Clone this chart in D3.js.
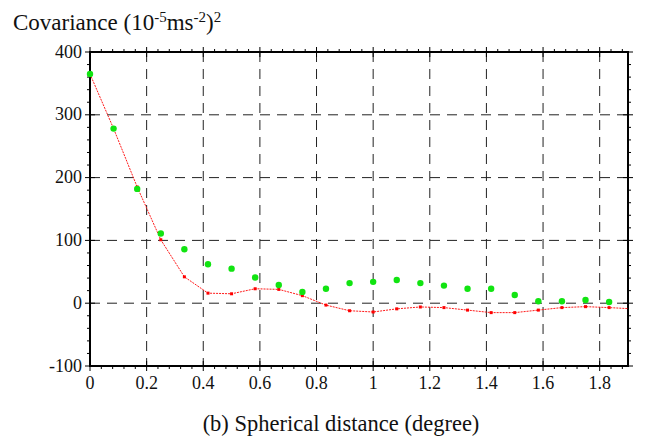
<!DOCTYPE html>
<html>
<head>
<meta charset="utf-8">
<script src="https://cdn.jsdelivr.net/npm/d3@7"></script>
<style>
  body { margin: 0; background: #fff; }
</style>
</head>
<body>
<svg id="chart" width="649" height="437"></svg>
<script>
// MARK: Data.

const distances = [0, 0.0833, 0.1667, 0.25, 0.3333, 0.4167, 0.5, 0.5833, 0.6667, 0.75, 0.8333,
  0.9167, 1.0, 1.0833, 1.1667, 1.25, 1.3333, 1.4167, 1.5, 1.5833, 1.6667, 1.75, 1.8333, 1.9167]
// empirical covariances (green dots)
const empirical = [365, 278, 182, 111, 86, 62, 55, 41, 29, 18, 23,
  32, 34, 37, 32, 28, 23, 23, 13, 3, 3, 5, 2]
// model covariances (red line)
const model = [365, 278, 185, 101, 42, 16, 15, 23, 22, 12, -3,
  -12, -14, -9, -6, -7, -11, -15, -15, -11, -7, -5.5, -7, -9]

const xTicks = [0, 0.2, 0.4, 0.6, 0.8, 1.0, 1.2, 1.4, 1.6, 1.8]
const yTicks = [-100, 0, 100, 200, 300, 400]

const FONT = 'Liberation Serif'

// MARK: Layout.

const margin = { top: 52, right: 21, bottom: 71, left: 90 }
const svg    = d3.select('#chart')
const width  = 649 - margin.left - margin.right
const height = 437 - margin.top - margin.bottom

const x = d3.scaleLinear().domain([0, 1.9]).range([0, width])
const y = d3.scaleLinear().domain([-100, 400]).range([height, 0])

const g = svg.append('g').attr('transform', `translate(${margin.left},${margin.top})`)

svg.append('defs').append('clipPath').attr('id', 'plot-clip')
  .append('rect').attr('width', width).attr('height', height)

// Dashed grid.
g.append('g').selectAll('line').data(xTicks.filter((d) => d > 0)).enter()
  .append('line')
  .attr('x1', (d) => x(d)).attr('x2', (d) => x(d))
  .attr('y1', 0).attr('y2', height)
  .attr('stroke', '#222').attr('stroke-width', 1).attr('stroke-dasharray', '10,7')
g.append('g').selectAll('line').data(yTicks.filter((d) => d > -100 && d < 400)).enter()
  .append('line')
  .attr('x1', 0).attr('x2', width)
  .attr('y1', (d) => y(d)).attr('y2', (d) => y(d))
  .attr('stroke', '#222').attr('stroke-width', 1).attr('stroke-dasharray', '10,7')

// Minor and major ticks on all four sides.
const xMinor = d3.range(0, 1.9001, 0.04).filter((d) => Math.abs(d / 0.2 - Math.round(d / 0.2)) > 1e-6)
const yMinor = d3.range(-100, 400, 20).filter((d) => d % 100 !== 0)
const ticks = g.append('g').attr('stroke', '#000').attr('stroke-width', 1)
for (const d of xMinor) {
  ticks.append('line').attr('x1', x(d)).attr('x2', x(d)).attr('y1', height).attr('y2', height + 3)
  ticks.append('line').attr('x1', x(d)).attr('x2', x(d)).attr('y1', 0).attr('y2', -3)
}
for (const d of xTicks) {
  ticks.append('line').attr('x1', x(d)).attr('x2', x(d)).attr('y1', height - 5).attr('y2', height + 5)
  ticks.append('line').attr('x1', x(d)).attr('x2', x(d)).attr('y1', -5).attr('y2', 5)
}
for (const d of yMinor) {
  ticks.append('line').attr('x1', 0).attr('x2', -3).attr('y1', y(d)).attr('y2', y(d))
  ticks.append('line').attr('x1', width).attr('x2', width + 3).attr('y1', y(d)).attr('y2', y(d))
}
for (const d of yTicks) {
  ticks.append('line').attr('x1', -5).attr('x2', 5).attr('y1', y(d)).attr('y2', y(d))
  ticks.append('line').attr('x1', width - 5).attr('x2', width + 5).attr('y1', y(d)).attr('y2', y(d))
}

// Frame.
g.append('rect')
  .attr('width', width).attr('height', height)
  .attr('fill', 'none').attr('stroke', '#000').attr('stroke-width', 2)

// Tick labels.
g.append('g').selectAll('text').data(xTicks).enter()
  .append('text')
  .attr('x', (d) => x(d)).attr('y', height + 23)
  .attr('text-anchor', 'middle')
  .attr('font-size', 18)
  .attr('fill', '#111')
  .style('font-family', FONT)
  .text((d) => d3.format('~g')(d))
g.append('g').selectAll('text').data(yTicks).enter()
  .append('text')
  .attr('x', -8).attr('y', (d) => y(d) + 5.5)
  .attr('text-anchor', 'end')
  .attr('font-size', 18)
  .attr('fill', '#111')
  .style('font-family', FONT)
  .text((d) => d)

// Model curve (red) and its points.
const plot = g.append('g').attr('clip-path', 'url(#plot-clip)')
plot.append('path')
  .datum(distances.map((d, i) => [d, model[i]]))
  .attr('fill', 'none')
  .attr('stroke', '#ff1a1a')
  .attr('stroke-width', 1)
  .attr('stroke-dasharray', '2,1')
  .attr('d', d3.line().x((d) => x(d[0])).y((d) => y(d[1])))

// Empirical covariances (green).
g.append('g').selectAll('circle').data(empirical).enter()
  .append('circle')
  .attr('cx', (d, i) => x(distances[i]))
  .attr('cy', (d) => y(d))
  .attr('r', 3.2)
  .attr('fill', '#11e411')

plot.append('g').selectAll('rect').data(model).enter()
  .append('rect')
  .attr('x', (d, i) => x(distances[i]) - 1.5)
  .attr('y', (d) => y(d) - 1.5)
  .attr('width', 3).attr('height', 3)
  .attr('fill', '#ff0000')

// Titles.
const title = svg.append('text')
  .attr('x', 13).attr('y', 30)
  .attr('font-size', 23)
  .attr('fill', '#111')
  .style('font-family', FONT)
title.append('tspan').text('Covariance (10')
title.append('tspan').attr('dy', -8).attr('font-size', 15).text('-5')
title.append('tspan').attr('dy', 8).text('ms')
title.append('tspan').attr('dy', -8).attr('font-size', 15).text('-2')
title.append('tspan').attr('dy', 8).text(')')
title.append('tspan').attr('dy', -8).attr('font-size', 15).text('2')

svg.append('text')
  .attr('x', margin.left + width / 2 - 18).attr('y', 431)
  .attr('text-anchor', 'middle')
  .attr('font-size', 22.5)
  .attr('fill', '#111')
  .style('font-family', FONT)
  .text('(b) Spherical distance (degree)')
</script>
</body>
</html>
